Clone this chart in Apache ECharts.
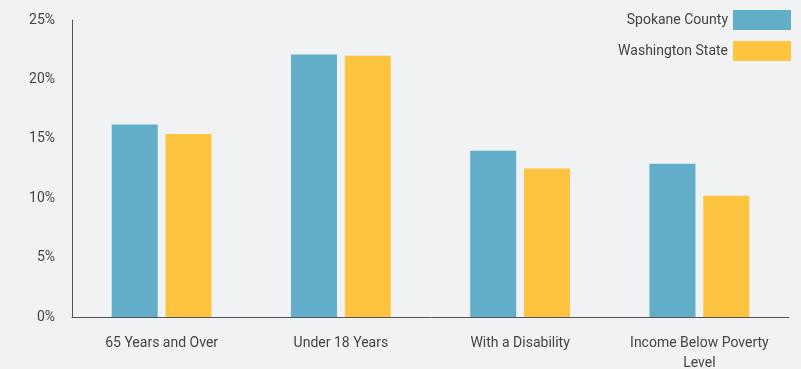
<!DOCTYPE html>
<html><head><meta charset="utf-8">
<script src="https://cdn.jsdelivr.net/npm/echarts@6/dist/echarts.min.js"></script>
<style>html,body{margin:0;padding:0;background:#f1f2f4}#c{width:801px;height:369px}</style>
</head><body><div id="c"></div>
<script>
const categories = ['65 Years and Over', 'Under 18 Years', 'With a Disability', 'Income Below Poverty\nLevel'];
const spokane = [16.2, 22.1, 14.0, 12.9];
const washington = [15.4, 22.0, 12.5, 10.2];
const yTicks = [0, 5, 10, 15, 20, 25];

const chart = echarts.init(document.getElementById('c'));
chart.setOption({
  backgroundColor: '#f1f2f4',
  textStyle: { fontFamily: 'Roboto' },
  grid: { left: 72, right: 12, top: 20, bottom: 52, outerBoundsMode: 'none', containLabel: false },
  legend: {
    orient: 'vertical', right: 5, top: 5, align: 'right',
    itemWidth: 58, itemHeight: 20, itemGap: 11,
    icon: 'rect',
    textStyle: { color: '#444', fontSize: 14, fontFamily: 'Roboto' },
    data: ['Spokane County', 'Washington State']
  },
  xAxis: {
    type: 'category', data: categories,
    axisLine: { lineStyle: { color: '#555', width: 1 } },
    axisTick: { show: false },
    axisLabel: { color: '#444', fontSize: 14, margin: 16, lineHeight: 20, interval: 0 }
  },
  yAxis: {
    type: 'value', min: yTicks[0], max: yTicks[yTicks.length - 1], interval: 5,
    axisLine: { show: true, lineStyle: { color: '#555', width: 1 } },
    axisTick: { show: false },
    splitLine: { show: false },
    axisLabel: { color: '#444', fontSize: 14, margin: 17, formatter: '{value}%' }
  },
  series: [
    { name: 'Spokane County', type: 'bar', data: spokane, barWidth: 46, barGap: '17%', itemStyle: { color: '#62aec8' } },
    { name: 'Washington State', type: 'bar', data: washington, barWidth: 46, itemStyle: { color: '#fec33f' } }
  ]
});
</script></body></html>
